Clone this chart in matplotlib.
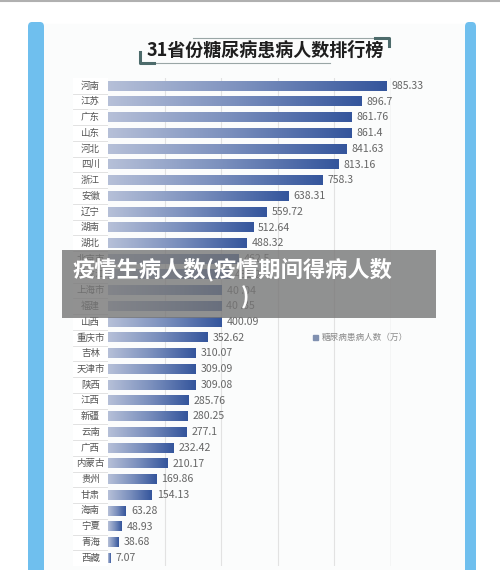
import matplotlib.pyplot as plt
import numpy as np
from matplotlib.colors import LinearSegmentedColormap
from matplotlib.patches import FancyBboxPatch, Rectangle

plt.rcParams["font.family"] = ["Noto Sans CJK SC", "DejaVu Sans"]

provinces = [
    "河南", "江苏", "广东", "山东", "河北", "四川", "浙江", "安徽", "辽宁", "湖南",
    "湖北", "北京市", "黑龙江", "上海市", "福建", "山西", "重庆市", "吉林", "天津市", "陕西",
    "江西", "新疆", "云南", "广西", "内蒙古", "贵州", "甘肃", "海南", "宁夏", "青海", "西藏",
]
patients = [
    985.33, 896.7, 861.76, 861.4, 841.63, 813.16, 758.3, 638.31, 559.72, 512.64,
    488.32, 462.5, 431.2, 401.04, 400.35, 400.09, 352.62, 310.07, 309.09, 309.08,
    285.76, 280.25, 277.1, 232.42, 210.17, 169.86, 154.13, 63.28, 48.93, 38.68, 7.07,
]
value_labels = [
    "985.33", "896.7", "861.76", "861.4", "841.63", "813.16", "758.3", "638.31", "559.72", "512.64",
    "488.32", "462.5", "431.2", "40 .04", "40 .35", "400.09", "352.62", "310.07", "309.09", "309.08",
    "285.76", "280.25", "277.1", "232.42", "210.17", "169.86", "154.13", "63.28", "48.93", "38.68", "7.07",
]
title = "31省份糖尿病患病人数排行榜"
legend_label = "糖尿病患病人数（万）"
overlay_text = "疫情生病人数(疫情期间得病人数"

W, H = 500, 570
fig = plt.figure(figsize=(W / 100, H / 100), dpi=100, facecolor="white")


def fx(px):
    return px / W


def fy(py):
    return 1 - py / H


# page frame: thin top line and blue side strips
fig.add_artist(plt.Line2D([0, 1], [fy(1), fy(1)], color="#b0b0b0", lw=1.5))
fig.add_artist(Rectangle((fx(44), 0), fx(421), fy(24), color="#fbfcfc", zorder=0))
for x0, w in [(28, 16), (465, 11)]:
    fig.add_artist(FancyBboxPatch((fx(x0), -0.02), fx(w), fy(22) + 0.02,
                                  boxstyle="round,pad=0,rounding_size=0.008",
                                  color="#6fbfee", ec="none", zorder=1))

# title with bracket decoration
fig.text(fx(265), fy(50), title, ha="center", va="center", fontsize=13,
         fontweight="heavy", color="#1e1e1e")
fig.add_artist(plt.Line2D([fx(193), fx(388)], [fy(38), fy(38)], color="#9aa6a6", lw=0.8))
fig.add_artist(plt.Line2D([fx(375), fx(389), fx(389)], [fy(38), fy(38), fy(46)],
                          color="#4d6b6b", lw=2.2))
fig.add_artist(plt.Line2D([fx(140), fx(330)], [fy(63), fy(63)], color="#9aa6a6", lw=0.8))
fig.add_artist(plt.Line2D([fx(140), fx(140), fx(154)], [fy(52), fy(63), fy(63)],
                          color="#4d6b6b", lw=2.2))

n = len(provinces)
y = np.arange(n)

# label column
lab = fig.add_axes([fx(73), fy(566), fx(35), (566 - 78) / H])
lab.set_xlim(0, 1)
lab.set_ylim(n - 0.5, -0.5)
lab.set_facecolor("white")
for s in lab.spines.values():
    s.set_visible(False)
lab.set_xticks([])
lab.set_yticks([])
for i, name in enumerate(provinces):
    lab.text(0.5, i, name, ha="center", va="center", fontsize=6.8, color="#555555")
    if i < n - 1:
        lab.axhline(i + 0.5, color="#dddddd", lw=0.6)

# bars
ax = fig.add_axes([fx(108), fy(566), fx(283), (566 - 78) / H])
ax.set_facecolor("none")
cmap = LinearSegmentedColormap.from_list("bar", ["#b6c0d8", "#7a8fbd", "#34559c"])
grad = np.linspace(0, 1, 256).reshape(1, -1)
for i, v in enumerate(patients):
    ax.imshow(grad, extent=[0, v, i + 0.3, i - 0.3], aspect="auto", cmap=cmap, zorder=3,
              interpolation="bilinear")
    ax.text(v + 18, i, value_labels[i], ha="left", va="center", fontsize=7.6,
            color="#666666", zorder=4)
ax.set_xlim(0, 1000)
ax.set_ylim(n - 0.5, -0.5)
for gx in [200, 400, 600, 800]:
    ax.axvline(gx, color="#e2e2e2", lw=0.8, zorder=1)
ax.axvline(1000, color="#c8c8c8", lw=0.9, zorder=1)
for s in ax.spines.values():
    s.set_visible(False)
ax.set_xticks([])
ax.set_yticks([])

# legend
fig.add_artist(Rectangle((fx(313), fy(339.5)), fx(5), 5 / H, color="#8090b0"))
fig.text(fx(322), fy(337), legend_label, ha="left", va="center", fontsize=6.2,
         color="#888888")

# watermark overlay
fig.add_artist(Rectangle((fx(62), fy(318)), fx(374), 68 / H, color="#767676",
                         alpha=0.8, ec="none", zorder=10))
fig.text(fx(72), fy(270), overlay_text, ha="left", va="center", fontsize=16,
         fontweight="bold", color="white", zorder=11)
fig.text(fx(245), fy(298), ")", ha="center", va="center", fontsize=16,
         fontweight="bold", color="white", zorder=11)

fig.savefig("out.png", dpi=100, facecolor="white")
